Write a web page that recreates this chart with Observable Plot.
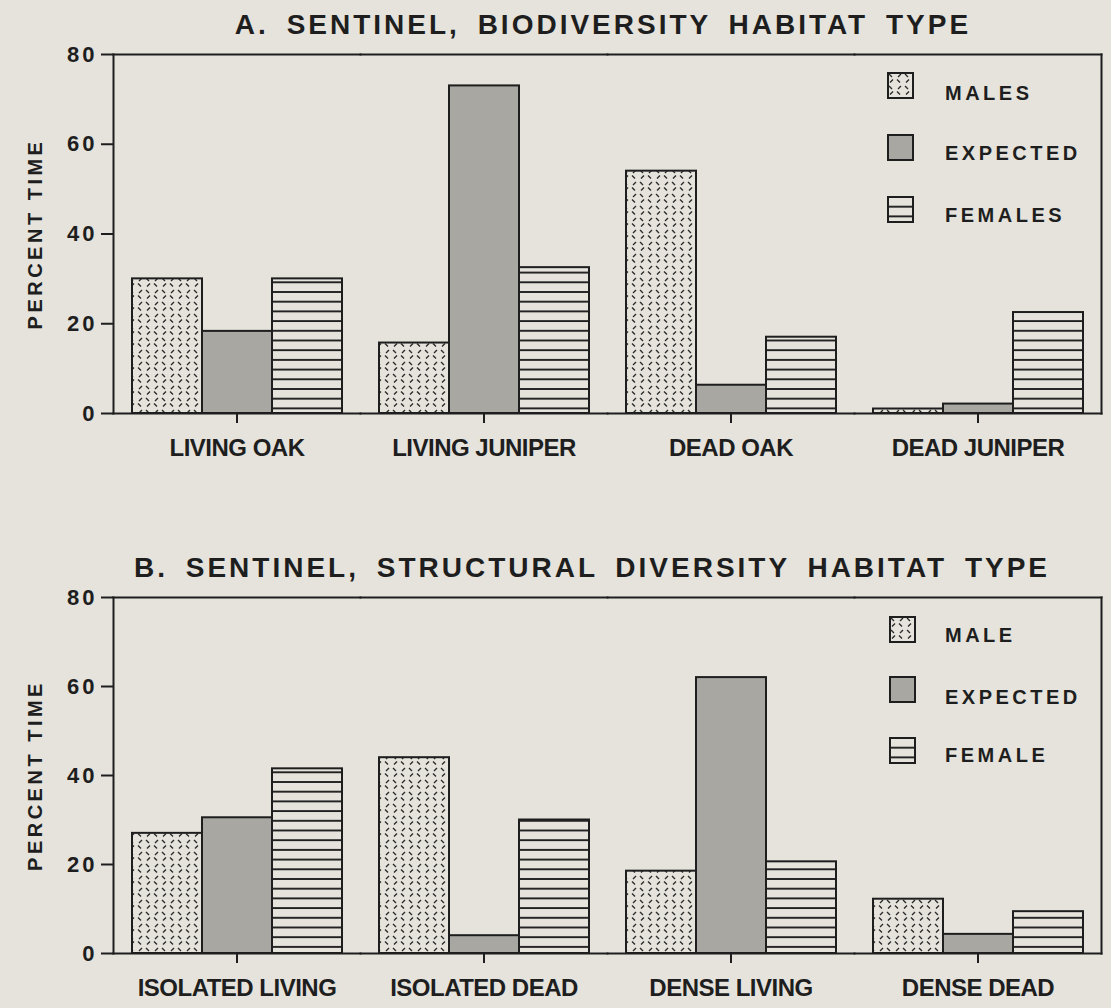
<!DOCTYPE html>
<html><head><meta charset="utf-8">
<script src="https://cdn.jsdelivr.net/npm/d3@7"></script>
<script src="https://cdn.jsdelivr.net/npm/@observablehq/plot@0.6"></script>
<style>
html,body{margin:0;padding:0;background:#e5e3dc;}
#wrap{position:relative;width:1111px;height:1008px;overflow:hidden;font-family:"Liberation Sans",Arial,Helvetica,sans-serif;color:#1e1e1e;}
.title{position:absolute;font-weight:bold;font-size:28px;line-height:28px;letter-spacing:3px;word-spacing:7px;white-space:nowrap;transform:translateX(-50%);}
.panel{position:absolute;left:0;}
.sw{position:absolute;}
.lt{position:absolute;font-weight:bold;font-size:20px;line-height:20px;letter-spacing:3.5px;white-space:nowrap;}
svg g[aria-label="y-axis tick label"]{font-size:22px;font-weight:bold;letter-spacing:3px;}
svg g[aria-label="y-axis label"]{font-size:20px;font-weight:bold;letter-spacing:3.5px;}
svg g[aria-label="fx-axis tick label"]{font-size:24px;font-weight:bold;letter-spacing:-0.5px;}
svg g[aria-label="y-axis tick"], svg g[aria-label="fx-axis tick"]{stroke-width:2px;}
</style>
</head>
<body>
<svg width="0" height="0" style="position:absolute">
  <defs>
    <pattern id="pat-male" patternUnits="userSpaceOnUse" width="16" height="12">
      <path d="M2,2 L5,5 M11,5 L14,2 M3,10.5 L6,7.5 M10,7.5 L13,10.5" stroke="#2a2a2a" stroke-width="1.4" fill="none"/>
    </pattern>
    <pattern id="pat-female" patternUnits="userSpaceOnUse" width="10" height="9.7">
      <line x1="0" x2="10" y1="1" y2="1" stroke="#1e1e1e" stroke-width="1.9"/>
    </pattern>
  </defs>
</svg>
<div id="wrap"></div>
<script>
// ---- data ----
const categoriesA = ["LIVING OAK", "LIVING JUNIPER", "DEAD OAK", "DEAD JUNIPER"];
const seriesA = ["MALES", "EXPECTED", "FEMALES"];
const malesA = [30, 15.7, 54, 1];
const expectedA = [18.3, 73, 6.3, 2.1];
const femalesA = [30, 32.5, 17, 22.5];

const categoriesB = ["ISOLATED LIVING", "ISOLATED DEAD", "DENSE LIVING", "DENSE DEAD"];
const seriesB = ["MALE", "EXPECTED", "FEMALE"];
const maleB = [27, 44, 18.5, 12.2];
const expectedB = [30.5, 4, 62, 4.3];
const femaleB = [41.5, 30, 20.6, 9.4];

const yTicks = [0, 20, 40, 60, 80];
const yDomain = [0, 80];
const titleA = "A. SENTINEL, BIODIVERSITY HABITAT TYPE";
const titleB = "B. SENTINEL, STRUCTURAL DIVERSITY HABITAT TYPE";
const yLabel = "PERCENT TIME";

const fills = ["url(#pat-male)", "#a8a7a2", "url(#pat-female)"];
const ink = "#1e1e1e";

function panel({categories, series, values, height, marginTop, marginBottom}) {
  const data = [];
  categories.forEach((c, i) => series.forEach((s, j) => data.push({category: c, series: s, value: values[j][i]})));
  return Plot.plot({
    width: 1111, height, marginTop, marginBottom, marginLeft: 113, marginRight: 10,
    style: {background: "transparent", fontFamily: '"Liberation Sans", Arial, Helvetica, sans-serif', color: ink, overflow: "visible"},
    fx: {domain: categories, padding: 0, axis: "bottom", tickSize: 10, tickPadding: 15, label: null},
    x: {domain: series, axis: null, paddingInner: 0, paddingOuter: 0.24},
    y: {domain: yDomain, ticks: yTicks, tickSize: 12, tickPadding: 4, label: yLabel, labelAnchor: "center", labelOffset: 86, labelArrow: "none"},
    marks: [
      ...series.map((s, j) => Plot.barY(data.filter(d => d.series === s), {
        fx: "category", x: "series", y: "value", fill: fills[j], stroke: ink, strokeWidth: 2
      })),
      Plot.frame({anchor: "top", stroke: ink, strokeWidth: 2}),
      Plot.frame({anchor: "bottom", stroke: ink, strokeWidth: 2}),
      Plot.frame({anchor: "left", facetAnchor: "left", stroke: ink, strokeWidth: 2}),
      Plot.frame({anchor: "right", facetAnchor: "right", stroke: ink, strokeWidth: 2})
    ]
  });
}

const wrap = document.getElementById("wrap");

function addTitle(text, cx, top) {
  const d = document.createElement("div");
  d.className = "title";
  d.textContent = text;
  d.style.left = cx + "px";
  d.style.top = top + "px";
  wrap.appendChild(d);
}

function swatch(fill, left, top) {
  const ns = "http://www.w3.org/2000/svg";
  const s = document.createElementNS(ns, "svg");
  s.setAttribute("width", 28); s.setAttribute("height", 28);
  s.setAttribute("class", "sw");
  s.style.left = left + "px"; s.style.top = top + "px";
  const r = document.createElementNS(ns, "rect");
  r.setAttribute("x", 1); r.setAttribute("y", 1); r.setAttribute("width", 25); r.setAttribute("height", 25);
  r.setAttribute("fill", fill); r.setAttribute("stroke", ink); r.setAttribute("stroke-width", 2);
  s.appendChild(r);
  wrap.appendChild(s);
}

function legend(series, swLeft, swTops, textLeft, textTops) {
  series.forEach((s, j) => {
    swatch(fills[j], swLeft, swTops[j]);
    const t = document.createElement("div");
    t.className = "lt";
    t.textContent = s;
    t.style.left = textLeft + "px";
    t.style.top = textTops[j] + "px";
    wrap.appendChild(t);
  });
}

const a = panel({categories: categoriesA, series: seriesA, values: [malesA, expectedA, femalesA], height: 490, marginTop: 54, marginBottom: 77});
a.classList.add("panel"); a.style.top = "0px";
wrap.appendChild(a);

const b = panel({categories: categoriesB, series: seriesB, values: [maleB, expectedB, femaleB], height: 518, marginTop: 107, marginBottom: 55});
b.classList.add("panel"); b.style.top = "490px";
wrap.appendChild(b);

addTitle(titleA, 603, 11);
addTitle(titleB, 592, 554);

legend(seriesA, 887, [72, 134, 196], 945, [83, 143, 205]);
legend(seriesB, 889, [616, 676, 737], 945, [625, 687, 745]);
</script>
</body></html>
